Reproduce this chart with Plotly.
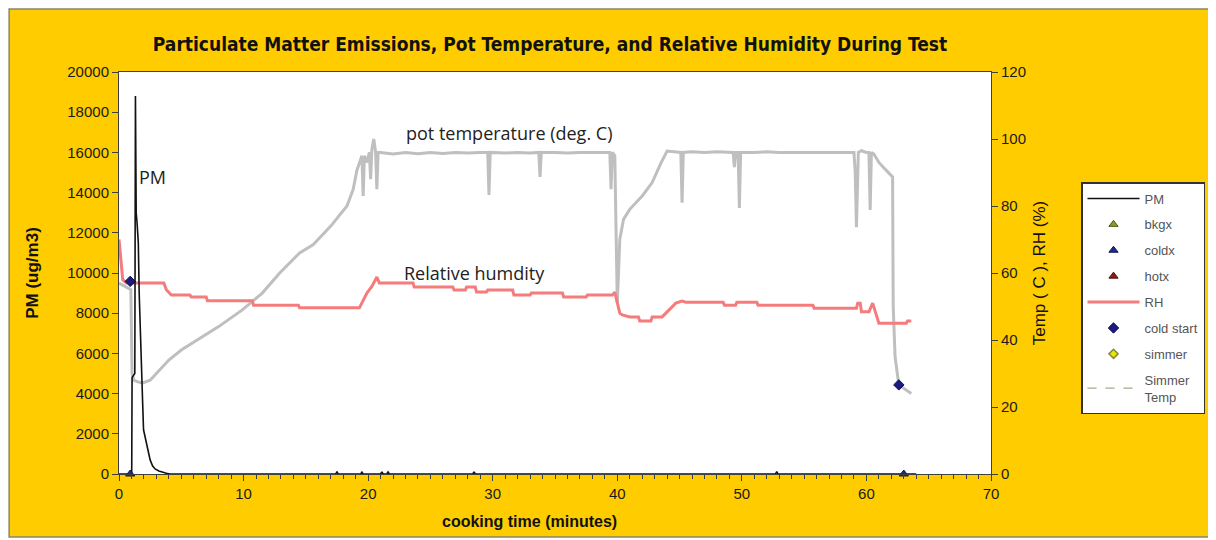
import plotly.graph_objects as go

# ---------------- data ----------------
pm_time = [0, 0.85, 1.02, 1.05, 1.27, 1.32, 1.38, 1.45, 1.55, 1.62, 1.70, 1.80, 1.90,
           1.97, 2.10, 2.20, 2.35, 2.50, 2.70, 2.90, 3.20, 3.50, 3.80, 4.10,
           17.4, 17.5, 17.6, 19.4, 19.5, 19.6, 21.0, 21.1, 21.2, 21.5, 21.6, 21.7,
           28.4, 28.5, 28.6, 52.7, 52.8, 52.9, 64.0]
pm_value = [0, 0, 0, 4800, 5000, 18800, 13000, 12500, 11500, 9000, 7000, 5500, 3500,
            2200, 1800, 1500, 1100, 700, 400, 250, 150, 80, 40, 0,
            0, 120, 0, 0, 90, 0, 0, 110, 0, 0, 100, 0,
            0, 110, 0, 0, 120, 0, 0]

temp_time = [0, 0.5, 0.95, 1.05, 1.2, 1.5, 1.9, 2.5, 3.0, 4.0, 5.0, 6.5, 8.0, 9.9,
             11.5, 12.9, 14.5, 15.6, 17.0, 18.3, 18.8, 19.1, 19.5, 19.6, 19.7, 19.9,
             20.1, 20.2, 20.3, 20.45, 20.6, 20.7, 20.8, 21.0, 22, 23, 24, 25, 26, 27,
             28, 29, 29.6, 29.7, 29.8, 31, 32, 33, 33.7, 33.8, 33.9, 35, 36, 37, 38,
             39, 39.4, 39.5, 39.6, 39.8, 40.0, 40.1, 40.2, 40.5, 41, 42, 42.8, 43.5,
             44, 45.1, 45.2, 45.3, 46, 47, 48, 49.3, 49.4, 49.5, 49.7, 49.8, 49.9,
             51, 52, 53, 54, 55, 56, 57, 58, 59.0, 59.1, 59.2, 59.35, 59.6, 60.0,
             60.2, 60.3, 60.4, 60.6, 61.0, 61.5, 62.1, 62.15, 62.3, 62.6, 63.0, 63.6]
temp_value = [57, 56, 55, 30, 28, 27.5, 27.2, 28, 30, 34, 37, 40.5, 44, 49,
              54, 60, 66, 68.5, 74, 80, 85, 90.7, 95, 83, 95, 93,
              96, 88, 97, 100, 96, 85, 96, 96, 95.5, 96, 95.6, 96, 95.7, 96,
              95.8, 96, 96, 83.3, 96, 95.8, 96, 95.8, 96, 88.7, 96, 96, 95.8, 96, 96,
              96, 96, 85, 96, 95, 51, 60, 70, 76, 79, 83, 87, 92.8,
              96.4, 96, 81, 96, 96.2, 96, 96.2, 96, 91.6, 96, 96, 79.4, 96,
              96, 96.2, 96, 96, 96.2, 96, 96, 96, 96, 90, 73.7, 96, 96.5, 96,
              96, 78.8, 96, 95.5, 93, 91, 88.7, 50, 35, 26.6, 25.5, 24]

rh_time = [0, 0.3, 0.6, 3.6, 3.8, 4.2, 5.7, 5.8, 7.0, 7.1, 10.7, 10.8, 14.4, 14.5,
           19.3, 19.6, 19.9, 20.3, 20.7, 20.9, 23.6, 23.7, 26.8, 26.9, 27.8, 27.9,
           28.6, 28.7, 29.5, 29.6, 31.6, 31.7, 33.0, 33.1, 35.6, 35.7, 37.5, 37.6,
           39.6, 39.8, 39.9, 40.2, 40.4, 41.0, 41.7, 41.8, 42.7, 42.8, 43.6, 44.2,
           44.7, 45.2, 45.5, 48.5, 48.6, 49.5, 49.6, 51.2, 51.3, 55.7, 55.8, 59.2,
           59.3, 59.5, 59.6, 60.2, 60.5, 61.0, 63.2, 63.3, 63.6]
rh_value = [70, 58, 57, 57, 55, 53.4, 53.4, 52.8, 52.8, 51.7, 51.7, 50.4, 50.4, 49.6,
            49.6, 52, 54, 56, 58.8, 57, 57, 55.8, 55.8, 54.9, 54.9, 55.8,
            55.8, 54.3, 54.3, 54.9, 54.9, 53.4, 53.4, 54.0, 54.0, 52.8, 52.8, 53.4,
            53.4, 54.3, 52.8, 48, 47.5, 46.9, 46.9, 45.7, 45.7, 46.9, 46.9, 49,
            51, 51.6, 51.3, 51.3, 50.4, 50.4, 51.3, 51.3, 50.4, 50.4, 49.5, 49.5,
            51, 51, 48.4, 48.4, 51, 45, 45, 45.7, 45.7]

cold_start_time = [0.9, 62.6]
cold_start_temp = [57.5, 26.6]
coldx_time = [0.9, 63.0]
coldx_pm = [0, 0]

pm_label = ("PM", 1.45, 14800)
temp_label = ("pot temperature (deg. C)", 31.3, 101.8)
rh_label = ("Relative humdity", 28.5, 60.0)

# ---------------- styling ----------------
YELLOW = "#FFCC00"
AXIS = "#404040"
TICKFONT = dict(family="Liberation Sans, Arial", size=15, color="#1a1a1a")
OFF = 8                      # page body margin of the html page
PAGE_W, PAGE_H = 1216, 540
PL, PR, PT, PB = 119, 992, 72, 474   # plot area in page pixels
W, H = PAGE_W - OFF, PAGE_H - OFF
PW, PH = PR - PL, PB - PT


def px2paper_x(px):
    return (px - PL) / PW


def px2paper_y(py):
    return (PB - py) / PH


fig = go.Figure()

# pot temperature (right axis = y)
fig.add_trace(go.Scatter(x=temp_time, y=temp_value, mode="lines", yaxis="y",
                         line=dict(color="#BFBFBF", width=3), showlegend=False,
                         name="pot temperature"))
# RH
fig.add_trace(go.Scatter(x=rh_time, y=rh_value, mode="lines", yaxis="y",
                         line=dict(color="#F47C7C", width=3),
                         name="RH", legendrank=5, legendgroup="g5"))
fig.add_trace(go.Scatter(x=cold_start_time, y=cold_start_temp, mode="markers", yaxis="y",
                         marker=dict(symbol="diamond", size=8, color="#1A1A80",
                                     line=dict(color="#0D0D50", width=1)),
                         name="cold start", legendrank=6, legendgroup="g6"))
fig.add_trace(go.Scatter(x=[None], y=[None], mode="markers", yaxis="y",
                         marker=dict(symbol="diamond", size=7, color="#E8E800",
                                     line=dict(color="#8A8A30", width=1.5)),
                         name="simmer", legendrank=7, legendgroup="g7"))
fig.add_trace(go.Scatter(x=[None], y=[None], mode="lines", yaxis="y",
                         line=dict(color="#A8A888", width=1.2, dash="dash"),
                         name="Simmer<br>Temp", legendrank=8, legendgroup="g8"))

# PM (left axis = y2)
fig.add_trace(go.Scatter(x=pm_time, y=pm_value, mode="lines", yaxis="y2",
                         line=dict(color="#111111", width=1.6),
                         name="PM", legendrank=1, legendgroup="g1"))
fig.add_trace(go.Scatter(x=[None], y=[None], mode="markers", yaxis="y2",
                         marker=dict(symbol="triangle-up", size=8, color="#8A9A30",
                                     line=dict(color="#4A5A10", width=1)),
                         name="bkgx", legendrank=2, legendgroup="g2"))
fig.add_trace(go.Scatter(x=coldx_time, y=coldx_pm, mode="markers", yaxis="y2",
                         marker=dict(symbol="triangle-up", size=8, color="#1F2A8C",
                                     line=dict(color="#10184F", width=1)),
                         name="coldx", legendrank=3, legendgroup="g3", cliponaxis=False))
fig.add_trace(go.Scatter(x=[None], y=[None], mode="markers", yaxis="y2",
                         marker=dict(symbol="triangle-up", size=8, color="#8B1A1A",
                                     line=dict(color="#500A0A", width=1)),
                         name="hotx", legendrank=4, legendgroup="g4"))

LABELFONT = dict(family="Open Sans", size=18, color="#222222")
annotations = [
    dict(text=pm_label[0], x=pm_label[1], y=pm_label[2], xref="x", yref="y2",
         showarrow=False, xanchor="left", yanchor="middle", font=LABELFONT),
    dict(text=temp_label[0], x=temp_label[1], y=temp_label[2], xref="x", yref="y",
         showarrow=False, xanchor="center", yanchor="middle", font=LABELFONT),
    dict(text=rh_label[0], x=rh_label[1], y=rh_label[2], xref="x", yref="y",
         showarrow=False, xanchor="center", yanchor="middle", font=LABELFONT),
    dict(text="<b>cooking time (minutes)</b>", x=px2paper_x(530), y=px2paper_y(521),
         xref="paper", yref="paper", showarrow=False, xanchor="center", yanchor="middle",
         font=dict(family="Liberation Sans, Arial", size=16, color="#111111")),
]

shapes = [
    dict(type="rect", xref="paper", yref="paper", layer="below",
         x0=px2paper_x(OFF + 1), x1=px2paper_x(1213), y0=px2paper_y(537), y1=px2paper_y(OFF + 1),
         fillcolor=YELLOW, line=dict(color="#8C8468", width=1.5)),
    dict(type="rect", xref="paper", yref="paper", layer="below",
         x0=0, x1=1, y0=0, y1=1, fillcolor="white", line=dict(width=0)),
]

fig.update_layout(
    width=W, height=H, autosize=False,
    margin=dict(l=PL - OFF, r=PAGE_W - PR, t=PT - OFF, b=PAGE_H - PB, pad=0),
    paper_bgcolor="white", plot_bgcolor="white",
    title=dict(text="<b>Particulate Matter Emissions, Pot Temperature, and Relative Humidity During Test</b>",
               x=(550 - OFF) / W, xref="container", xanchor="center",
               y=1 - (44 - OFF) / H, yref="container", yanchor="middle",
               font=dict(family="Liberation Sans Narrow, DejaVu Sans Condensed, Arial Narrow", size=19,
                         color="#111111")),
    xaxis=dict(range=[0, 70], dtick=10, tick0=0, showgrid=False, zeroline=False,
               showline=True, linecolor=AXIS, linewidth=1, mirror=True,
               ticks="outside", ticklen=6, tickcolor=AXIS, tickfont=TICKFONT,
               minor=dict(dtick=1, ticks="outside", ticklen=4, tickcolor=AXIS)),
    yaxis=dict(range=[0, 120], dtick=20, side="right", showgrid=False, zeroline=False,
               showline=True, linecolor=AXIS, linewidth=1,
               ticks="outside", ticklen=6, tickcolor=AXIS, tickfont=TICKFONT,
               title=dict(text="Temp ( C ), RH (%)", standoff=8,
                          font=dict(family="Liberation Sans, Arial", size=17, color="#111111"))),
    yaxis2=dict(range=[0, 20000], dtick=2000, side="left", overlaying="y", showgrid=False,
                zeroline=False, showline=True, linecolor=AXIS, linewidth=1,
                ticks="outside", ticklen=6, tickcolor=AXIS, tickfont=TICKFONT, tickformat="d",
                title=dict(text="<b>PM (ug/m3)</b>", standoff=24,
                           font=dict(family="Liberation Sans, Arial", size=17, color="#111111"))),
    legend=dict(x=px2paper_x(1081), y=px2paper_y(182), xanchor="left", yanchor="top",
                bgcolor="white", bordercolor="#333333", borderwidth=1.5,
                font=dict(family="Liberation Sans, Arial", size=13, color="#555555"),
                tracegroupgap=6, itemwidth=52, traceorder="grouped"),
    annotations=annotations,
    shapes=shapes,
)

fig.write_html("out.html")
